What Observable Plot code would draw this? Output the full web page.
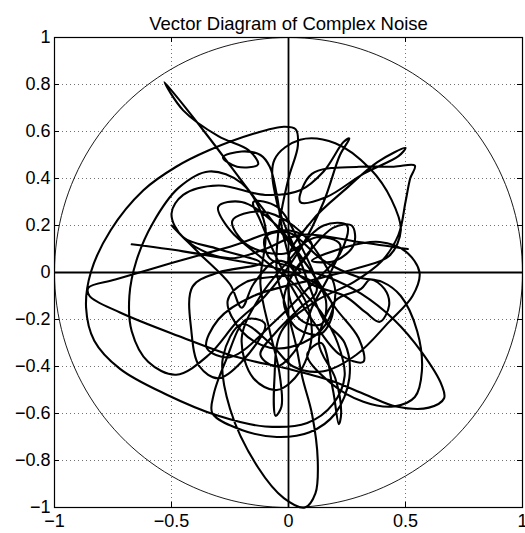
<!DOCTYPE html>
<html>
<head>
<meta charset="utf-8">
<script src="https://cdn.jsdelivr.net/npm/d3@7"></script>
<script src="https://cdn.jsdelivr.net/npm/@observablehq/plot@0.6"></script>
<style>
  html, body { margin: 0; padding: 0; background: #fff; }
</style>
</head>
<body>
<div id="chart"></div>
<script>
const title = "Vector Diagram of Complex Noise";

const xTicks = [-1, -0.5, 0, 0.5, 1];
const xTickLabels = ["−1", "−0.5", "0", "0.5", "1"];
const yTicks = [-1, -0.8, -0.6, -0.4, -0.2, 0, 0.2, 0.4, 0.6, 0.8, 1];
const yTickLabels = ["−1", "−0.8", "−0.6", "−0.4", "−0.2", "0", "0.2", "0.4", "0.6", "0.8", "1"];

// Successive noise samples as [real, imaginary] pairs
const trace = [
  // straight run in from the left
  [-0.67, 0.12], [-0.45, 0.09], [-0.22, 0.05], [-0.02, 0.01],
  // swirl right of centre
  [0.12, -0.05], [0.19, -0.15], [0.14, -0.26], [0.04, -0.24], [-0.02, -0.13], [0.01, -0.02],
  [0.09, 0.09], [0.19, 0.19], [0.27, 0.2], [0.28, 0.12], [0.2, 0.05], [0.1, 0.05],
  // right-hand loop across the real axis
  [0.25, 0.11], [0.39, 0.13], [0.5, 0.09], [0.56, 0.0], [0.53, -0.1], [0.43, -0.21],
  [0.29, -0.35], [0.15, -0.42], [0.02, -0.4], [-0.08, -0.3], [-0.2, -0.22],
  // tall loop down to the bottom of the circle
  [-0.28, -0.36], [-0.25, -0.58], [-0.13, -0.83], [-0.02, -0.96], [0.07, -1.0], [0.115, -0.94],
  [0.125, -0.8], [0.1, -0.6], [0.06, -0.45], [0.03, -0.3], [-0.01, -0.15], [-0.05, 0.0],
  // up to the top loop and round the big outer arc
  [-0.04, 0.2], [0.0, 0.4], [0.04, 0.54], [0.03, 0.61], [-0.02, 0.62], [-0.15, 0.59],
  [-0.34, 0.52], [-0.48, 0.45], [-0.62, 0.35], [-0.76, 0.18], [-0.845, 0.0], [-0.865, -0.15],
  [-0.83, -0.29], [-0.72, -0.41], [-0.52, -0.52], [-0.3, -0.61], [-0.1, -0.655], [0.08, -0.64],
  [0.19, -0.56], [0.24, -0.44], [0.21, -0.3], [0.14, -0.17], [0.05, -0.06],
  // small ellipse and the spike
  [-0.02, 0.15], [-0.05, 0.33], [-0.08, 0.45], [-0.12, 0.5], [-0.2, 0.515], [-0.28, 0.49],
  [-0.22, 0.45], [-0.13, 0.46], [-0.17, 0.52], [-0.3, 0.58], [-0.45, 0.69], [-0.53, 0.81],
  // straight back down
  [-0.36, 0.6], [-0.17, 0.35], [0.0, 0.13], [0.1, 0.0], [0.16, -0.12], [0.14, -0.22], [0.05, -0.2],
  [0.0, -0.05], [0.1, 0.12], [0.0, 0.18],
  // left to the pointed tip, then back low
  [-0.25, 0.11], [-0.5, 0.04], [-0.74, -0.03], [-0.855, -0.065], [-0.85, -0.1], [-0.72, -0.17],
  [-0.47, -0.27], [-0.22, -0.36], [0.0, -0.41], [0.18, -0.46], [0.33, -0.52],
  // lower right lobe with the pointed tip
  [0.46, -0.57], [0.6, -0.575], [0.665, -0.535], [0.655, -0.48], [0.57, -0.34], [0.45, -0.2],
  [0.31, -0.09], [0.17, -0.02], [0.03, 0.02],
  // swirl, then the rounded lobe
  [-0.08, 0.06], [-0.1, 0.15], [0.0, 0.17], [0.15, 0.05], [0.3, -0.02], [0.4, -0.04],
  [0.48, -0.1], [0.55, -0.25], [0.57, -0.42], [0.54, -0.53], [0.45, -0.57], [0.32, -0.55],
  [0.18, -0.47], [0.08, -0.35],
  // narrow loop down and back
  [0.14, -0.3], [0.19, -0.5], [0.215, -0.645], [0.225, -0.6], [0.2, -0.45], [0.13, -0.3],
  // small ellipse right of centre
  [0.2, -0.12], [0.31, -0.07], [0.35, -0.03], [0.41, -0.07], [0.43, -0.14], [0.39, -0.21],
  [0.33, -0.17], [0.24, -0.1], [0.1, -0.05],
  // upper-right tips
  [0.0, 0.05], [0.1, 0.22], [0.25, 0.36], [0.38, 0.47], [0.5, 0.53], [0.47, 0.495], [0.32, 0.42],
  [0.16, 0.32], [0.05, 0.3], [0.1, 0.42], [0.3, 0.45], [0.45, 0.45], [0.54, 0.455], [0.52, 0.4],
  [0.5, 0.3], [0.47, 0.16], [0.4, 0.05], [0.28, -0.04], [0.12, -0.12],
  // narrow loop below centre
  [-0.03, -0.25], [-0.06, -0.45], [-0.055, -0.61], [-0.03, -0.57], [-0.04, -0.42], [-0.08, -0.25],
  // inner left loop
  [-0.12, -0.05], [-0.1, 0.2], [-0.2, 0.38], [-0.34, 0.43], [-0.47, 0.36], [-0.58, 0.21],
  [-0.65, 0.05], [-0.68, -0.1], [-0.67, -0.25], [-0.6, -0.38], [-0.48, -0.435], [-0.34, -0.35],
  [-0.22, -0.21], [-0.1, -0.1],
  // top-middle loop
  [0.05, 0.1], [0.15, 0.3], [0.22, 0.5], [0.26, 0.57], [0.235, 0.555], [0.15, 0.43], [0.05, 0.35],
  [-0.1, 0.33],
  // loop on the left
  [-0.3, 0.37], [-0.45, 0.33], [-0.5, 0.25], [-0.45, 0.15], [-0.3, 0.1], [-0.12, 0.04],
  // loop dipping left and low
  [-0.3, 0.0], [-0.41, -0.06], [-0.415, -0.25], [-0.38, -0.4], [-0.3, -0.45], [-0.2, -0.38],
  [-0.1, -0.22],
  // hooked curve along the bottom
  [-0.18, -0.2], [-0.27, -0.38], [-0.32, -0.52], [-0.325, -0.6], [-0.2, -0.67], [-0.05, -0.7],
  [0.09, -0.68], [0.2, -0.6], [0.26, -0.45], [0.24, -0.3], [0.15, -0.2],
  // broad arc through the upper right
  [0.05, 0.05], [-0.05, 0.3], [-0.06, 0.48], [0.05, 0.565], [0.2, 0.55], [0.35, 0.44],
  [0.44, 0.31], [0.48, 0.18], [0.43, 0.07], [0.3, 0.02], [0.15, -0.02],
  // diagonal loops crowding the centre
  [-0.15, -0.1], [-0.3, -0.2], [-0.35, -0.32], [-0.25, -0.36], [-0.05, -0.2], [0.1, -0.05],
  [0.22, 0.08], [0.25, 0.2], [0.15, 0.2], [0.0, 0.05], [-0.12, -0.1], [-0.2, -0.28],
  [-0.15, -0.45], [-0.05, -0.5], [0.05, -0.42], [0.1, -0.25], [0.05, -0.08], [-0.1, 0.05],
  [-0.25, 0.18], [-0.3, 0.28], [-0.2, 0.3], [-0.05, 0.2], [0.08, 0.03], [0.2, -0.15],
  [0.3, -0.28], [0.32, -0.38], [0.22, -0.35], [0.1, -0.2], [-0.02, 0.0], [-0.12, 0.22],
  [-0.15, 0.3], [-0.05, 0.28], [0.05, 0.12], [0.12, -0.08], [0.05, -0.15],
  [-0.05, -0.25], [-0.12, -0.35], [-0.05, -0.4], [0.05, -0.3], [0.1, -0.15],
  [0.18, 0.0], [0.22, 0.12], [0.12, 0.15], [-0.02, 0.08], [-0.18, 0.12], [-0.24, 0.22],
  [-0.12, 0.26], [0.02, 0.2], [0.14, 0.06], [0.2, -0.08], [0.16, -0.22], [0.06, -0.3],
  [-0.08, -0.32], [-0.2, -0.25], [-0.26, -0.12], [-0.18, -0.04],
  [0.05, 0.0], [-0.05, 0.05], [-0.15, -0.05], [-0.2, -0.15], [-0.25, -0.05],
  // out to the short stroke on the left and the final run right
  [-0.38, 0.08], [-0.5, 0.2], [-0.4, 0.11], [-0.25, 0.06], [-0.1, 0.1], [0.05, 0.16],
  [0.3, 0.13], [0.51, 0.1]
];

const samples = trace.map(([re, im]) => ({re, im}));

// Reference unit circle |z| = 1
const unitCircle = d3.range(0, 361, 2).map(a => ({
  re: Math.cos(a * Math.PI / 180),
  im: Math.sin(a * Math.PI / 180)
}));

const W = 525, H = 533;
const mL = 54, mR = 3, mT = 37, mB = 26;
const frameW = W - mL - mR, frameH = H - mT - mB;
const tickLen = 5;
const gridStyle = {stroke: "#000", strokeOpacity: 0.55, strokeDasharray: "1,3", strokeWidth: 1};

const chart = Plot.plot({
  width: W,
  height: H,
  marginLeft: mL,
  marginRight: mR,
  marginTop: mT,
  marginBottom: mB,
  x: {domain: [-1, 1]},
  y: {domain: [-1, 1]},
  style: {
    fontFamily: "'Liberation Sans', Arial, Helvetica, sans-serif",
    fontSize: "18px",
    color: "#000",
    background: "#fff"
  },
  marks: [
    Plot.gridX(xTicks, gridStyle),
    Plot.gridY(yTicks, gridStyle),
    Plot.line(unitCircle, {x: "re", y: "im", stroke: "#000", strokeWidth: 0.9}),
    Plot.ruleX([0], {stroke: "#000", strokeWidth: 1.8}),
    Plot.ruleY([0], {stroke: "#000", strokeWidth: 1.8}),
    Plot.line(samples, {x: "re", y: "im", curve: "catmull-rom", stroke: "#000", strokeWidth: 2.1}),
    // inward tick marks on all four sides
    Plot.tickX(xTicks, {x: d => d, insetTop: frameH - tickLen, stroke: "#000"}),
    Plot.tickX(xTicks, {x: d => d, insetBottom: frameH - tickLen, stroke: "#000"}),
    Plot.tickY(yTicks, {y: d => d, insetRight: frameW - tickLen, stroke: "#000"}),
    Plot.tickY(yTicks, {y: d => d, insetLeft: frameW - tickLen, stroke: "#000"}),
    Plot.frame({stroke: "#000", strokeWidth: 1.2}),
    Plot.axisX(xTicks, {
      tickSize: 0, tickPadding: 7, label: null,
      tickFormat: d => xTickLabels[xTicks.indexOf(d)]
    }),
    Plot.axisY(yTicks, {
      tickSize: 0, tickPadding: 4, label: null,
      tickFormat: d => yTickLabels[yTicks.indexOf(d)]
    }),
    Plot.text([title], {frameAnchor: "top", dy: -21, fontSize: 18.5, fill: "#000"})
  ]
});

document.getElementById("chart").appendChild(chart);
</script>
</body>
</html>
